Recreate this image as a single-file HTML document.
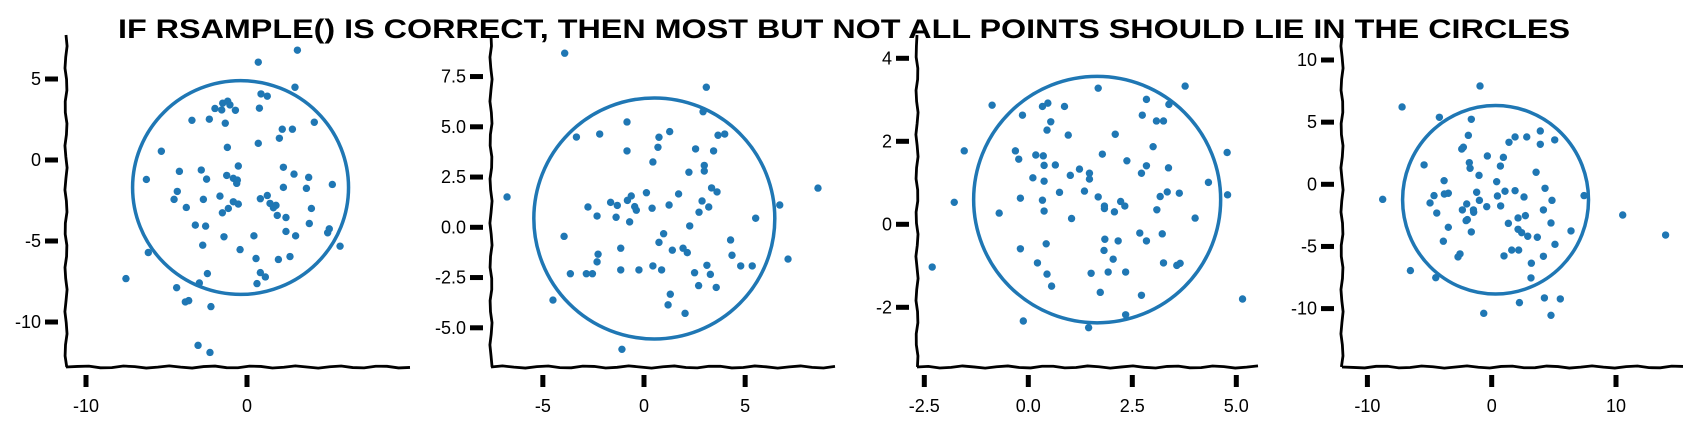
<!DOCTYPE html>
<html><head><meta charset="utf-8"><style>
html,body{margin:0;padding:0;background:#fff;}
svg{display:block;font-family:"Liberation Sans",sans-serif;}
</style></head><body>
<svg id="chart" width="1696" height="421" viewBox="0 0 1696 421" xmlns="http://www.w3.org/2000/svg">
<text x="118" y="38" font-size="27" font-weight="bold" textLength="1452" lengthAdjust="spacingAndGlyphs" fill="#000">IF RSAMPLE() IS CORRECT, THEN MOST BUT NOT ALL POINTS SHOULD LIE IN THE CIRCLES</text>
</svg>
<script>
// Panel 1
const p1X=[0.70,3.13,0.87,1.26,0.77,-1.99,-1.57,-1.51,-1.20,-1.06,-0.72,-3.42,-2.34,-1.35,4.18,2.19,2.82,2.01,0.70,-1.22,-5.32,-4.20,-2.84,-1.26,-0.85,-0.60,-0.64,-2.51,-0.54,2.26,2.92,3.83,5.30,-6.25,2.26,3.69,-4.33,-4.53,-2.71,-1.68,-0.85,-0.54,-1.16,-1.53,-3.77,0.83,1.26,1.43,1.80,1.64,4.00,1.88,2.42,-3.21,-2.57,3.87,5.11,5.01,2.42,-0.43,0.56,1.95,2.67,-2.46,0.83,1.14,0.62,-2.96,-4.37,-3.83,-3.62,-2.24,-7.52,-3.04,-2.30,-6.13,5.78,2.98,-1.43,0.43,3.02,-2.75];
const p1Y=[6.04,6.78,4.08,3.94,3.20,3.18,3.09,3.51,3.63,3.40,3.07,2.45,2.52,2.27,2.33,1.90,1.90,1.34,1.03,0.78,0.54,-0.70,-0.62,-0.95,-1.13,-1.24,-1.44,-1.18,-0.37,-0.45,-0.87,-1.07,-1.51,-1.20,-1.69,-1.75,-1.94,-2.43,-2.43,-2.23,-2.58,-2.72,-2.99,-3.26,-2.93,-2.39,-2.19,-2.68,-2.80,-2.95,-2.99,-3.42,-3.55,-4.02,-4.08,-3.92,-4.25,-4.49,-4.41,-5.53,-6.08,-6.14,-5.96,-7.01,-6.95,-7.22,-7.63,-7.59,-7.88,-8.76,-8.68,-9.05,-7.32,-11.44,-11.88,-5.71,-5.32,4.49,-4.74,-4.68,-4.68,-5.26];
const p1XTicks=[-10,0];
const p1YTicks=[5,0,-5,-10];
const p1Circle=[-7.2,6.4,4.99,-8.39];
// Panel 2
const p2X=[-3.92,3.08,-6.77,2.92,-0.84,-3.34,-2.19,0.74,1.27,3.66,3.99,0.69,-0.84,2.55,3.44,0.44,2.98,2.22,2.98,1.71,3.34,3.61,-0.63,-0.82,-1.65,-1.32,-2.77,-2.32,-1.38,-0.46,-0.38,0.40,1.24,2.87,3.20,2.72,-0.71,5.52,0.12,6.71,-3.95,-1.15,0.74,0.97,1.40,1.93,2.14,4.28,4.35,-2.27,-2.32,-1.15,-0.25,0.44,0.87,2.50,3.11,3.28,5.35,4.78,2.70,3.57,-3.64,-2.85,-2.55,1.30,1.19,2.03,-4.50,-1.09,7.12,2.26,8.6];
const p2Y=[8.66,6.97,1.51,5.75,5.24,4.49,4.64,4.48,4.76,4.58,4.64,3.98,3.80,3.90,3.80,3.25,3.08,2.74,2.80,1.66,1.96,1.76,1.56,1.34,1.24,1.09,1.01,0.56,0.50,1.03,0.85,0.95,1.11,1.31,1.01,0.75,0.27,0.45,1.72,1.11,-0.45,-1.04,-0.75,-0.32,-1.14,-1.04,-1.26,-0.63,-1.39,-1.34,-1.72,-2.12,-2.12,-1.92,-2.12,-2.26,-1.89,-2.34,-1.92,-1.92,-2.90,-2.99,-2.31,-2.31,-2.31,-3.33,-3.86,-4.28,-3.62,-6.07,-1.58,0.07,1.95];
const p2XTicks=[-5,0,5];
const p2YTicks=[7.5,5.0,2.5,0.0,-2.5,-5.0];
const p2Circle=[-5.52,6.54,6.51,-5.63];
// Panel 3
const p3X=[-0.87,1.68,0.34,0.47,0.87,3.77,2.84,3.38,2.74,3.08,3.25,0.54,0.45,2.09,0.96,-1.54,-0.31,-0.23,0.18,0.36,1.78,2.37,0.38,0.65,1.23,1.47,2.84,3.37,2.72,1.01,1.47,0.38,0.11,0.75,1.35,3.34,3.17,3.63,-0.19,0.34,1.68,2.22,2.32,1.83,1.83,2.07,0.38,3.09,-1.78,-0.70,1.04,2.68,3.22,2.84,1.84,2.16,0.43,-0.19,1.82,2.04,0.22,3.25,3.57,3.65,-2.31,0.45,1.51,1.92,2.34,0.56,1.73,2.72,-0.12,2.34,1.45,3.00,-0.14,4.78,4.33,4.79,4.01,5.15];
const p3Y=[2.87,3.28,2.84,2.92,2.84,3.33,3.01,2.89,2.63,2.49,2.49,2.47,2.27,2.17,2.15,1.77,1.77,1.57,1.67,1.65,1.69,1.53,1.42,1.43,1.33,1.23,1.41,1.36,1.23,1.18,1.09,1.04,1.12,0.77,0.80,0.78,0.67,0.75,0.63,0.58,0.66,0.55,0.44,0.44,0.38,0.30,0.32,0.35,0.53,0.27,0.14,-0.21,-0.23,-0.40,-0.36,-0.40,-0.47,-0.59,-0.63,-0.84,-0.93,-0.93,-0.99,-0.94,-1.03,-1.20,-1.18,-1.15,-1.15,-1.49,-1.64,-1.71,-2.33,-2.18,-2.49,1.87,2.63,1.73,1.01,0.71,0.15,-1.80];
const p3XTicks=[-2.5,0.0,2.5,5.0];
const p3YTicks=[4,2,0,-2];
const p3Circle=[-1.35,4.66,3.60,-2.41];
// Panel 4
const p4X=[-0.94,-7.21,-4.21,-1.64,-1.88,-2.28,-2.41,1.88,2.82,3.91,3.91,5.07,1.39,0.94,-0.35,-5.44,-1.80,-1.74,0.70,-1.02,3.57,-3.83,-3.81,-3.49,-4.64,-4.96,-1.21,0.46,1.07,1.88,2.60,-0.99,4.85,7.43,-8.77,0.72,-0.40,-2.01,-2.36,-1.47,-1.45,-4.42,4.16,-1.96,-2.06,2.12,2.71,1.34,4.77,-3.49,-1.64,2.12,2.41,2.90,3.67,6.38,10.54,13.99,-3.89,5.09,1.61,2.17,-2.55,-2.71,0.99,4.16,3.19,-6.54,-4.50,3.16,4.24,5.52,2.23,-0.64,4.77,0.40,4.29];
const p4Y=[7.91,6.22,5.39,5.23,3.94,2.98,2.84,3.81,3.81,4.29,3.22,3.57,3.38,2.17,2.28,1.56,1.74,1.29,1.47,0.72,0.97,0.29,-0.78,-0.72,-0.91,-1.50,-0.64,-0.94,-0.56,-0.51,-1.02,-1.29,-1.29,-0.91,-1.21,-1.74,-1.80,-1.58,-2.06,-2.06,-2.25,-2.31,-2.06,-2.84,-2.92,-2.71,-2.52,-3.14,-3.11,-3.46,-3.83,-3.62,-3.89,-4.18,-4.26,-3.75,-2.47,-4.08,-4.58,-4.83,-5.29,-5.29,-5.60,-5.84,-5.76,-5.79,-6.35,-6.94,-7.51,-7.53,-9.14,-9.22,-9.52,-10.38,-10.54,0.21,-0.32];
const p4XTicks=[-10,0,10];
const p4YTicks=[10,5,0,-5,-10];
const p4Circle=[-7.29,7.91,6.46,-8.95];

const NS="http://www.w3.org/2000/svg";
const svg=document.getElementById('chart');
function mk(tag,attrs){const e=document.createElementNS(NS,tag);for(const k in attrs)e.setAttribute(k,attrs[k]);return e;}
function wavy(x1,y1,x2,y2,seed){let d='M'+x1+' '+y1;const n=30;for(let i=1;i<=n;i++){const t=i/n;const w=Math.sin(i*1.7+seed)*1.1;if(x1===x2)d+=' L'+(x1+w)+' '+(y1+(y2-y1)*t);else d+=' L'+(x1+(x2-x1)*t)+' '+(y1+w);}return d;}
const panels=[
 {x:p1X,y:p1Y,xt:p1XTicks,yt:p1YTicks,c:p1Circle,L:66,R:410,x0:247,sx:16.1,y0:160,sy:16.2,fmt:v=>String(v)},
 {x:p2X,y:p2Y,xt:p2XTicks,yt:p2YTicks,c:p2Circle,L:491,R:835,x0:644,sx:20.23,y0:227.3,sy:20.1,fmt:v=>v.toFixed(1),fx:v=>String(v)},
 {x:p3X,y:p3Y,xt:p3XTicks,yt:p3YTicks,c:p3Circle,L:917,R:1258,x0:1028.3,sx:41.6,y0:224.3,sy:41.5,fmt:v=>String(v),fx:v=>v.toFixed(1)},
 {x:p4X,y:p4Y,xt:p4XTicks,yt:p4YTicks,c:p4Circle,L:1342,R:1683,x0:1491.7,sx:12.43,y0:184.3,sy:12.43,fmt:v=>String(v)}
];
panels.forEach((p,pi)=>{
 const g=mk('g',{});
 
 
 svg.appendChild(g);
 const X=v=>p.x0+p.sx*v, Y=v=>p.y0-p.sy*v;
 const TOP=35,BOT=367;
 const ya=mk('path',{d:wavy(p.L,TOP,p.L,BOT,pi),stroke:'#000','stroke-width':2.8,fill:'none'});
 
 
 g.appendChild(ya);
 const xa=mk('path',{d:wavy(p.L,BOT,p.R,BOT,pi+2),stroke:'#000','stroke-width':2.8,fill:'none'});
 
 
 g.appendChild(xa);
 p.yt.forEach(v=>{
  const t=mk('rect',{x:p.L-21,y:Y(v)-2.5,width:13,height:5,fill:'#000'});
  
  
  g.appendChild(t);
  const l=mk('text',{x:p.L-25,y:Y(v)+6,'font-size':18,'text-anchor':'end',fill:'#000'});
  l.textContent=p.fmt(v);
  
  
  g.appendChild(l);
 });
 p.xt.forEach(v=>{
  const t=mk('rect',{x:X(v)-2.5,y:BOT+8,width:5,height:12,fill:'#000'});
  
  
  g.appendChild(t);
  const l=mk('text',{x:X(v),y:BOT+45,'font-size':18,'text-anchor':'middle',fill:'#000'});
  l.textContent=(p.fx||p.fmt)(v);
  
  
  g.appendChild(l);
 });
 const c=p.c;
 const cx=(X(c[0])+X(c[1]))/2, cy=(Y(c[2])+Y(c[3]))/2, rx=(X(c[1])-X(c[0]))/2, ry=(Y(c[3])-Y(c[2]))/2;
 const el=mk('ellipse',{cx:cx,cy:cy,rx:rx-1.5,ry:ry-1.5,stroke:'#1f77b4','stroke-width':3.5,fill:'none'});
 
 
 g.appendChild(el);
 p.x.forEach((v,i)=>{
  const d=mk('circle',{cx:X(v),cy:Y(p.y[i]),r:3.7,fill:'#1f77b4'});
  
  
  g.appendChild(d);
 });
});
</script>
</body></html>
